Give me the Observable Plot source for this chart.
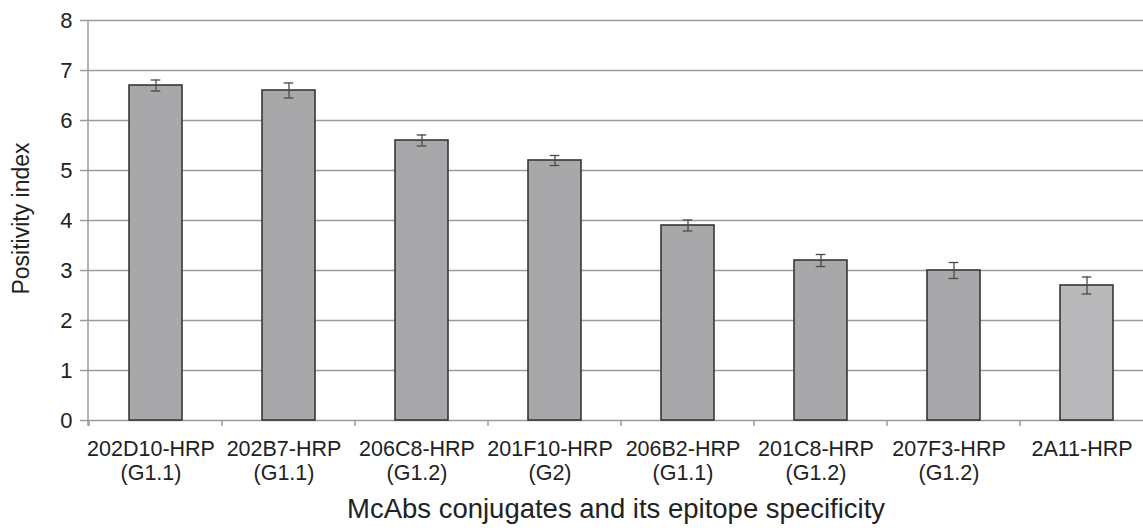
<!DOCTYPE html>
<html>
<head>
<meta charset="utf-8">
<script src="https://cdn.jsdelivr.net/npm/d3@7"></script>
<script src="https://cdn.jsdelivr.net/npm/@observablehq/plot@0.6"></script>
<style>
  html, body { margin: 0; padding: 0; background: #fff; overflow: hidden; }
  #chart svg { display: block; font-family: "Liberation Sans", Arial, sans-serif; }
</style>
</head>
<body>
<div id="chart"></div>
<script>
// ---- data ----
const conjugates = ["202D10-HRP", "202B7-HRP", "206C8-HRP", "201F10-HRP", "206B2-HRP", "201C8-HRP", "207F3-HRP", "2A11-HRP"];
const epitopes   = ["(G1.1)", "(G1.1)", "(G1.2)", "(G2)", "(G1.1)", "(G1.2)", "(G1.2)", ""];
const positivity = [6.7, 6.6, 5.6, 5.2, 3.9, 3.2, 3.0, 2.7];
const errors     = [0.11, 0.15, 0.11, 0.1, 0.11, 0.12, 0.16, 0.17];
const barTone    = ["main", "main", "main", "main", "main", "main", "main", "light"];
const yTicks     = [0, 1, 2, 3, 4, 5, 6, 7, 8];
const gridValues = [1, 2, 3, 4, 5, 6, 7, 8];
const xTitle = "McAbs conjugates and its epitope specificity";
const yTitle = "Positivity index";

const rows = conjugates.map((c, i) => ({
  name: c, group: epitopes[i], value: positivity[i],
  lo: positivity[i] - errors[i], hi: positivity[i] + errors[i], tone: barTone[i]
}));

const FONT = "Liberation Sans, Arial, sans-serif";
const GRID = "#9b9b9b";

// band boundary ticks + y axis line, drawn from the scales
function axisDecor(index, scales, values, dims) {
  const x = scales.x, y = scales.y;
  const g = d3.create("svg:g");
  const starts = conjugates.map(c => x(c));
  let bw = typeof x.bandwidth === "function" ? x.bandwidth() : (x.bandwidth || 0);
  const step = starts[1] - starts[0];
  const firstBoundary = starts[0] + bw / 2 - step / 2;
  const y0 = y(0);
  for (let i = 0; i <= conjugates.length; i++) {
    const bx = firstBoundary + i * step;
    g.append("line").attr("x1", bx).attr("x2", bx).attr("y1", y0).attr("y2", y0 + 6)
      .attr("stroke", GRID).attr("stroke-width", 1.5);
  }
  g.append("line").attr("x1", dims.marginLeft).attr("x2", dims.marginLeft)
    .attr("y1", y(8)).attr("y2", y0 + 6).attr("stroke", GRID).attr("stroke-width", 1.5);
  return g.node();
}

const chart = Plot.plot({
  width: 1143,
  height: 530,
  marginLeft: 88,
  marginRight: 0,
  marginTop: 20,
  marginBottom: 110,
  style: { fontFamily: FONT, color: "#222", background: "#fff" },
  x: { domain: conjugates, range: [88, 1155], paddingInner: 0.6, paddingOuter: 0.3, axis: null },
  y: { domain: [0, 8], axis: null },
  color: { domain: ["main", "light"], range: ["#a8a8aa", "#b9b9bb"] },
  marks: [
    Plot.ruleY(gridValues, { stroke: GRID, strokeWidth: 1.5 }),
    Plot.ruleY([0], { stroke: GRID, strokeWidth: 1.5 }),
    Plot.axisY(yTicks, {
      tickSize: 8, tickPadding: 8, fontSize: 22, stroke: GRID, strokeWidth: 1.5,
      fill: "#222", label: null, tickFormat: d => String(d)
    }),
    axisDecor,
    Plot.barY(rows, { x: "name", y: "value", fill: "tone", stroke: "#363636", strokeWidth: 1.6 }),
    Plot.ruleX(rows, { x: "name", y1: "lo", y2: "hi", stroke: "#4a4a4a", strokeWidth: 1.3 }),
    Plot.tickY(rows, { x: "name", y: "lo", stroke: "#4a4a4a", strokeWidth: 1.3, insetLeft: 21.7, insetRight: 21.7 }),
    Plot.tickY(rows, { x: "name", y: "hi", stroke: "#4a4a4a", strokeWidth: 1.3, insetLeft: 21.7, insetRight: 21.7 }),
    Plot.text(rows, { x: "name", y: 0, text: "name", dy: 29, dx: -5, fontSize: 21.5, fill: "#222" }),
    Plot.text(rows, { x: "name", y: 0, text: "group", dy: 53, dx: -5, fontSize: 21.5, fill: "#222" }),
    Plot.text([xTitle], { frameAnchor: "bottom", text: d => d, dy: 97, fontSize: 27.5, fill: "#222" }),
    Plot.text([yTitle], { frameAnchor: "left", textAnchor: "middle", text: d => d, rotate: -90, dx: -67, dy: -2, fontSize: 23, fill: "#222" })
  ]
});

document.getElementById("chart").appendChild(chart);
</script>
</body>
</html>
